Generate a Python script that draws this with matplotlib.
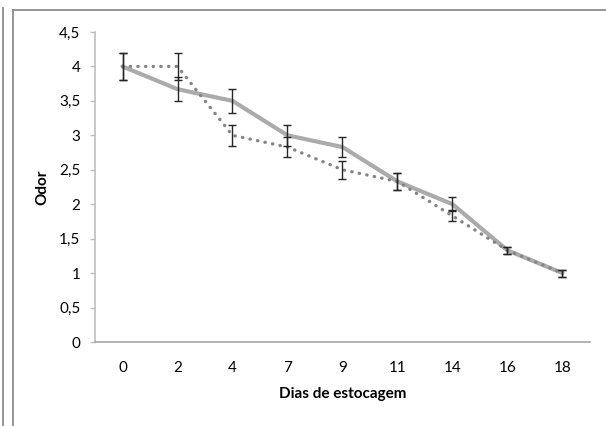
import matplotlib
matplotlib.use("Agg")
import matplotlib.pyplot as plt
from matplotlib.lines import Line2D
from matplotlib.ticker import FuncFormatter

days = ["0", "2", "4", "7", "9", "11", "14", "16", "18"]
solid_vals = [4.0, 3.67, 3.5, 3.0, 2.83, 2.33, 2.0, 1.33, 1.0]
solid_err = [0.2, 0.17, 0.17, 0.15, 0.14, 0.12, 0.1, 0.05, 0.05]
dotted_vals = [4.0, 4.0, 3.0, 2.83, 2.5, 2.33, 1.83, 1.33, 1.0]
dotted_err = [0.2, 0.2, 0.15, 0.14, 0.13, 0.12, 0.08, 0.05, 0.05]
y_ticks = [0, 0.5, 1, 1.5, 2, 2.5, 3, 3.5, 4, 4.5]

plt.rcParams['font.family'] = ['Lato', 'DejaVu Sans']

W, H = 606, 426
fig = plt.figure(figsize=(W / 100, H / 100), dpi=100)
ax = fig.add_axes([95 / W, 1 - 342 / H, (590 - 95) / W, (342 - 32) / H])

x = list(range(len(days)))
ax.plot(x, solid_vals, color="#ABABAB", lw=3.0, solid_capstyle="round", zorder=2)
ax.plot(x, dotted_vals, color="#858585", lw=2.4, linestyle=(0, (0.1, 2.2)),
        dash_capstyle="round", zorder=2)
ax.errorbar(x, solid_vals, yerr=solid_err, fmt="none", ecolor="#262626",
            elinewidth=1, capsize=2.7, capthick=1, zorder=3)
ax.errorbar(x, dotted_vals, yerr=dotted_err, fmt="none", ecolor="#262626",
            elinewidth=1, capsize=2.7, capthick=1, zorder=3)

ax.set_xlim(-0.5, len(days) - 0.5)
ax.set_ylim(0, 4.5)
ax.set_xticks(x)
ax.set_xticklabels(days)
ax.set_yticks(y_ticks)
ax.yaxis.set_major_formatter(FuncFormatter(lambda v, p: ("%g" % v).replace(".", ",")))

for s in ["top", "right"]:
    ax.spines[s].set_visible(False)
ax.spines["left"].set_color("#BFBFBF")
ax.spines["bottom"].set_color("#A6A6A6")
ax.spines["left"].set_linewidth(1.2)
ax.spines["bottom"].set_linewidth(1.2)
ax.tick_params(axis="x", length=0, pad=14, labelsize=11, colors="#000000")
ax.tick_params(axis="y", length=3.6, width=1, color="#BFBFBF", pad=7, labelsize=11)

ax.set_xlabel("Dias de estocagem", fontsize=11, fontweight="bold", labelpad=8)
ax.set_ylabel("Odor", fontsize=11, fontweight="bold", labelpad=7)

# outer frame lines
c = "#8C8C8C"
fig.add_artist(Line2D([3 / W, 3 / W], [0, 1 - 8 / H], color=c, lw=1.3, transform=fig.transFigure))
fig.add_artist(Line2D([12.5 / W, 12.5 / W], [0, 1 - 10 / H], color=c, lw=1.3, transform=fig.transFigure))
fig.add_artist(Line2D([12.5 / W, 1], [1 - 10 / H, 1 - 10 / H], color=c, lw=1.3, transform=fig.transFigure))

fig.savefig("out.png", dpi=100)
